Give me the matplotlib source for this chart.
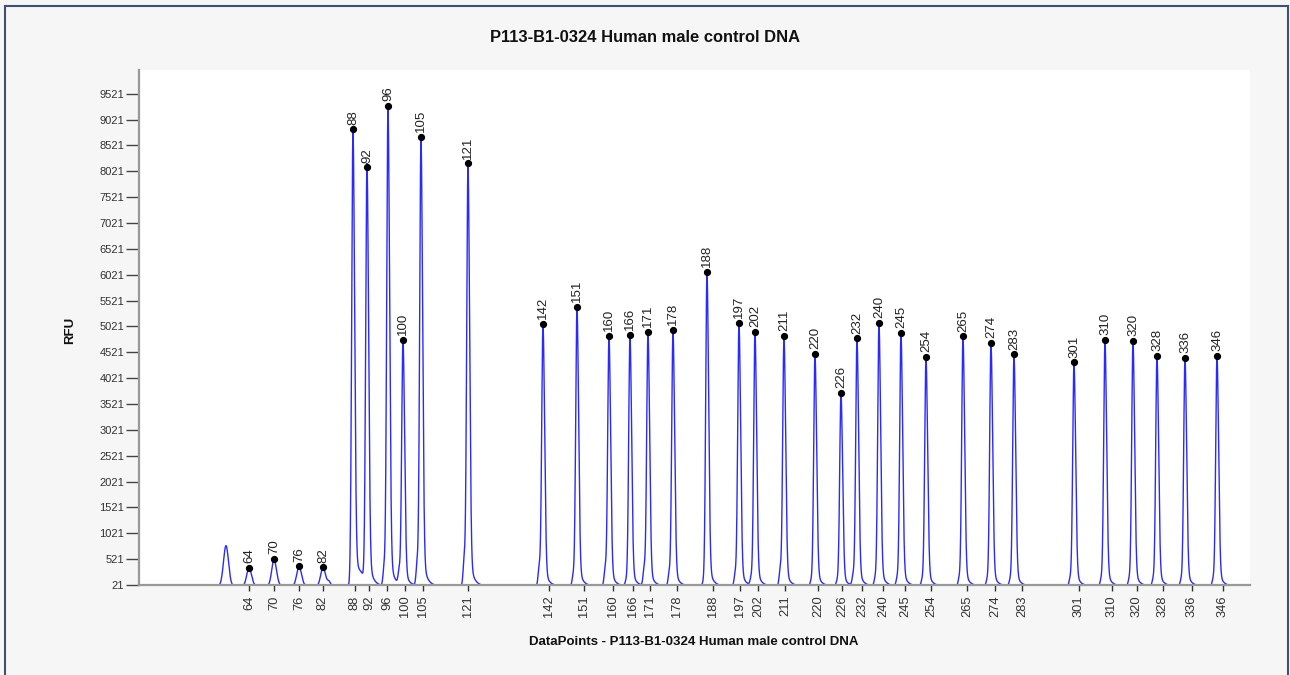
import numpy as np
import matplotlib
matplotlib.use("Agg")
import matplotlib.pyplot as plt
from matplotlib.patches import Rectangle

plt.rcParams["font.family"] = ["Liberation Sans", "DejaVu Sans"]

TITLE = "P113-B1-0324 Human male control DNA"

# fragment sizes (bp) called on the trace
sizes = [64, 70, 76, 82, 88, 92, 96, 100, 105, 121, 142, 151, 160, 166, 171,
         178, 188, 197, 202, 211, 220, 226, 232, 240, 245, 254, 265, 274, 283,
         301, 310, 320, 328, 336, 346]
# where each size label sits on the data-point axis
tick_points = [110, 135, 160, 184, 216, 230, 248, 266, 284, 329, 410, 445, 474,
               494, 511, 538, 574, 601, 619, 646, 679, 703, 723, 744, 766, 792,
               828, 856, 883, 940, 973, 998, 1024, 1053, 1084]
# apex of each called peak (data points)
peak_points = [110, 135, 160, 184, 214, 228, 249, 264, 282, 329, 404, 438, 470,
               491, 509, 534, 568, 600, 616, 645, 676, 702, 718, 740, 762, 787,
               824, 852, 875, 935, 966, 994, 1018, 1046, 1078]
# apex height (RFU)
peak_rfu = [356, 517, 381, 362, 8832, 8096, 9283, 4752, 8683, 8174, 5068, 5397,
            4835, 4849, 4920, 4946, 6074, 5094, 4920, 4842, 4486, 3731, 4790,
            5087, 4901, 4428, 4829, 4707, 4481, 4326, 4752, 4738, 4455, 4417,
            4455]
# small shoulder just left of each peak (RFU)
shoulder_rfu = [0, 0, 0, 0, 0, 0, 362, 260, 420, 491, 362, 200, 337, 100, 337,
                245, 60, 230, 150, 298, 100, 100, 200, 150, 150, 120, 150, 120,
                120, 150, 130, 130, 130, 120, 130]
# uncalled features on the trace
extra_points = [87, 222, 190]
extra_rfu = [782, 170, 80]
extra_width = [2.5, 4.0, 1.5]

yticks = list(range(21, 9522, 500))


def peak(x, c, h, s_left=1.3, s_right=1.6, tail=0.1):
    d = x - c
    left = np.exp(-0.5 * (d / s_left) ** 2)
    right = (1 - tail) * np.exp(-0.5 * (d / s_right) ** 2) \
        + tail * np.exp(-np.clip(d, 0, None) / 3.8)
    return h * np.where(d < 0, left, right)


x = np.linspace(0, 1111, 10000)
trace = np.zeros_like(x)
for c, h, sh in zip(peak_points, peak_rfu, shoulder_rfu):
    if h < 1000:
        trace += peak(x, c, h, 2.3, 2.5, 0.05)
    else:
        trace += peak(x, c, h)
    if sh:
        trace += sh * np.exp(-0.5 * ((x - c + 3.8) / 1.1) ** 2)
for c, h, w in zip(extra_points, extra_rfu, extra_width):
    trace += h * np.exp(-0.5 * ((x - c) / w) ** 2)

fig = plt.figure(figsize=(12.9, 6.75), dpi=100, facecolor="#f6f6f6")
ax = fig.add_axes([139 / 1290, 1 - 585 / 675, 1111 / 1290, 515.5 / 675])
ax.set_facecolor("white")

ax.plot(x, trace, color="#2a2aff", lw=1.0, zorder=2)
ax.plot(peak_points, peak_rfu, "o", color="black", ms=4.2, zorder=3)
for c, h, s in zip(peak_points, peak_rfu, sizes):
    ax.annotate(str(s), (c, h), xytext=(0, 3.5), textcoords="offset points",
                rotation=90, ha="center", va="bottom", fontsize=9.5,
                color="#222222")

ax.set_xlim(0, 1111)
ax.set_ylim(21, 9990)
ax.set_xticks(tick_points, [str(s) for s in sizes], rotation=90)
ax.set_yticks(yticks, [str(v) for v in yticks])
ax.tick_params(axis="x", direction="out", length=4.5, width=1, color="#333333",
               labelsize=9.3, labelcolor="#333333", pad=3)
ax.tick_params(axis="y", direction="out", length=9.5, width=1, color="#444444",
               labelsize=8, labelcolor="#333333", pad=1)

for side in ("top", "right"):
    ax.spines[side].set_visible(False)
for side in ("left", "bottom"):
    ax.spines[side].set_color("#999999")
    ax.spines[side].set_linewidth(1.6)
    ax.spines[side].set_zorder(4)

ax.set_xlabel("DataPoints - " + TITLE, fontsize=9.5, fontweight="bold",
              color="#111111", va="center")
ax.xaxis.set_label_coords(555 / 1111, -(642 - 585) / 515.5)
ax.set_ylabel("RFU", fontsize=9.5, fontweight="bold", color="#111111",
              va="center")
ax.yaxis.set_label_coords(-(139 - 70) / 1111, (585 - 330) / 515.5)

fig.text(0.5, 1 - 37 / 675, TITLE, ha="center", va="center", fontsize=11.9,
         fontweight="bold", color="#111111")

fig.patches.append(Rectangle((4.5 / 1290, -0.02), 1283.5 / 1290,
                             (675 - 5.5) / 675 + 0.02, transform=fig.transFigure,
                             fill=False, edgecolor="#3d5273", lw=1.5))

fig.savefig("out.png", dpi=100, facecolor=fig.get_facecolor())
